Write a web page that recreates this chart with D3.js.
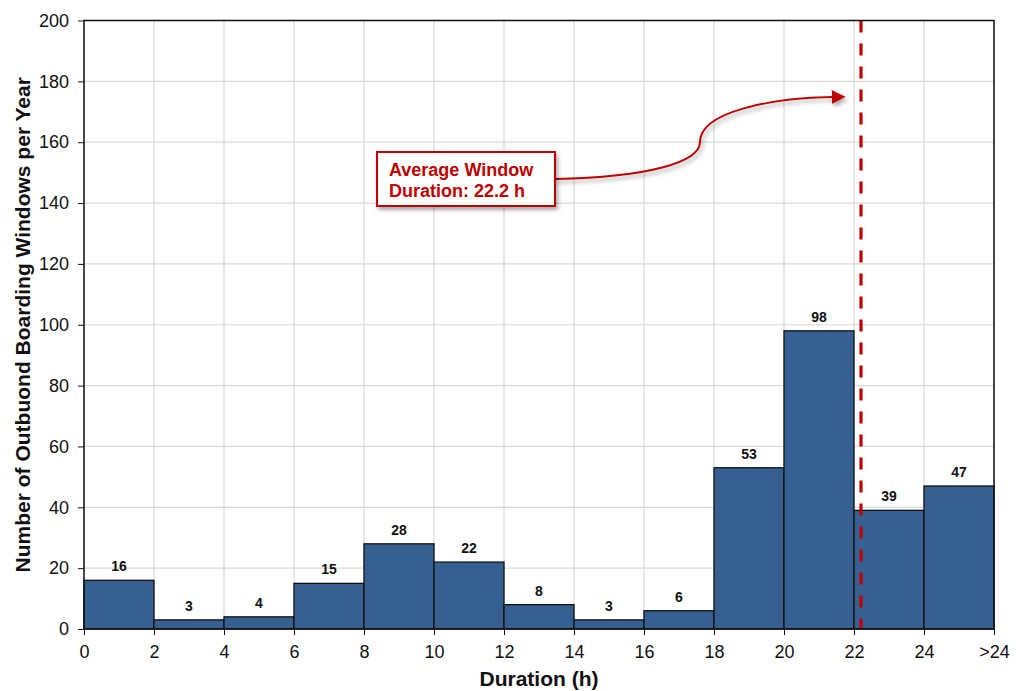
<!DOCTYPE html>
<html>
<head>
<meta charset="utf-8">
<script src="https://cdn.jsdelivr.net/npm/d3@7"></script>
<style>
  body { margin: 0; background: #fff; }
  svg { display: block; font-family: "Liberation Sans", Arial, sans-serif; }
</style>
</head>
<body>
<svg id="chart" width="1021" height="691"></svg>
<script>
// Histogram of boarding window durations (2-hour bins, last bin is ">24")
const binStarts = [0, 2, 4, 6, 8, 10, 12, 14, 16, 18, 20, 22, 24];
const counts    = [16, 3, 4, 15, 28, 22, 8, 3, 6, 53, 98, 39, 47];
const xTickValues = [0, 2, 4, 6, 8, 10, 12, 14, 16, 18, 20, 22, 24, 26];
const xTickLabels = ["0", "2", "4", "6", "8", "10", "12", "14", "16", "18", "20", "22", "24", ">24"];
const yTickValues = [0, 20, 40, 60, 80, 100, 120, 140, 160, 180, 200];
const averageDuration = 22.2;
const binWidth = 2;

const svg = d3.select("#chart");
const margin = { left: 84, right: 27, top: 20.5, bottom: 62 };
const W = 1021, H = 691;

const x = d3.scaleLinear().domain([0, 26]).range([margin.left, W - margin.right]);
const y = d3.scaleLinear().domain([0, 200]).range([H - margin.bottom, margin.top]);

// Gridlines
const grid = svg.append("g");
grid.selectAll("line.h").data(yTickValues).join("line")
  .attr("x1", x(0)).attr("x2", x(26))
  .attr("y1", d => y(d)).attr("y2", d => y(d))
  .attr("stroke", "#d9d9d9").attr("stroke-width", 1.2);
grid.selectAll("line.v").data(xTickValues).join("line")
  .attr("y1", y(0)).attr("y2", y(200))
  .attr("x1", d => x(d)).attr("x2", d => x(d))
  .attr("stroke", "#d9d9d9").attr("stroke-width", 1.2);

// Bars
const data = binStarts.map((s, i) => ({ s, v: counts[i] }));
svg.append("g").selectAll("rect").data(data).join("rect")
  .attr("x", d => x(d.s))
  .attr("width", d => x(d.s + binWidth) - x(d.s))
  .attr("y", d => y(d.v))
  .attr("height", d => y(0) - y(d.v))
  .attr("fill", "#376092")
  .attr("stroke", "#111")
  .attr("stroke-width", 1.3);

// Value labels
svg.append("g").selectAll("text").data(data).join("text")
  .attr("x", d => x(d.s + binWidth / 2))
  .attr("y", d => y(d.v) - 9)
  .attr("text-anchor", "middle")
  .attr("font-size", 14)
  .attr("font-weight", "bold")
  .attr("fill", "#111")
  .text(d => d.v);

// Average duration line
svg.append("line")
  .attr("x1", x(averageDuration)).attr("x2", x(averageDuration))
  .attr("y1", y(200)).attr("y2", y(0))
  .attr("stroke", "#c00000").attr("stroke-width", 3.2)
  .attr("stroke-dasharray", "12,11");

// Frame
svg.append("rect")
  .attr("x", x(0)).attr("y", y(200))
  .attr("width", x(26) - x(0)).attr("height", y(0) - y(200))
  .attr("fill", "none").attr("stroke", "#111").attr("stroke-width", 1.5);

// Axes
const yAxis = d3.axisLeft(y).tickValues(yTickValues).tickSize(6).tickPadding(9);
const gy = svg.append("g").attr("transform", `translate(${x(0)},0)`).call(yAxis);
gy.select(".domain").remove();
gy.selectAll("text").attr("font-size", 18).attr("fill", "#111").attr("font-family", "Liberation Sans, Arial, sans-serif");
gy.selectAll("line").attr("stroke", "#111");

const xAxis = d3.axisBottom(x).tickValues(xTickValues)
  .tickFormat((d, i) => xTickLabels[i]).tickSize(6).tickPadding(10);
const gx = svg.append("g").attr("transform", `translate(0,${y(0)})`).call(xAxis);
gx.select(".domain").remove();
gx.selectAll("text").attr("font-size", 18).attr("fill", "#111").attr("font-family", "Liberation Sans, Arial, sans-serif");
gx.selectAll("line").attr("stroke", "#111");

// Axis titles
svg.append("text")
  .attr("x", (x(0) + x(26)) / 2).attr("y", 686)
  .attr("text-anchor", "middle")
  .attr("font-size", 21).attr("font-weight", "bold").attr("fill", "#111")
  .text("Duration (h)");

svg.append("text")
  .attr("transform", `translate(30,${(y(0) + y(200)) / 2}) rotate(-90)`)
  .attr("text-anchor", "middle")
  .attr("font-size", 21).attr("font-weight", "bold").attr("fill", "#111")
  .text("Number of Outbuond Boarding Windows per Year");

// Annotation callout
const defs = svg.append("defs");
defs.append("marker")
  .attr("id", "arrow").attr("viewBox", "0 0 10 10")
  .attr("refX", 1).attr("refY", 5)
  .attr("markerWidth", 7).attr("markerHeight", 7)
  .attr("markerUnits", "strokeWidth")
  .attr("orient", "auto")
  .append("path").attr("d", "M0,0 L10,5 L0,10 Z").attr("fill", "#c00000");
const shadow = defs.append("filter").attr("id", "shadow")
  .attr("x", "-20%").attr("y", "-20%").attr("width", "140%").attr("height", "150%");
shadow.append("feDropShadow").attr("dx", 2).attr("dy", 3).attr("stdDeviation", 2)
  .attr("flood-color", "#000").attr("flood-opacity", 0.35);

svg.append("path")
  .attr("d", "M555,179 C650,177 700,162 700,142 C700,112 770,98 833,97")
  .attr("fill", "none").attr("stroke", "#c00000").attr("stroke-width", 2)
  .attr("marker-end", "url(#arrow)")
  .attr("filter", "url(#shadow)");

svg.append("rect")
  .attr("x", 377).attr("y", 152).attr("width", 178).attr("height", 54)
  .attr("fill", "#fff").attr("stroke", "#c00000").attr("stroke-width", 2)
  .attr("filter", "url(#shadow)");

const note = svg.append("text")
  .attr("font-size", 18).attr("font-weight", "bold").attr("fill", "#c00000");
note.append("tspan").attr("x", 389).attr("y", 176).text("Average Window");
note.append("tspan").attr("x", 389).attr("y", 197).text("Duration: " + averageDuration + " h");
</script>
</body>
</html>
